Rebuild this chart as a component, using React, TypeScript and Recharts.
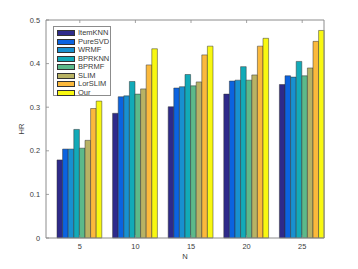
import { BarChart, Bar, XAxis, YAxis } from 'recharts';

const N_VALUES = [5, 10, 15, 20, 25];
const ITEMKNN = [0.179, 0.286, 0.301, 0.330, 0.352];
const PURESVD = [0.204, 0.324, 0.344, 0.360, 0.372];
const WRMF = [0.204, 0.326, 0.347, 0.362, 0.369];
const BPRKNN = [0.249, 0.359, 0.375, 0.393, 0.405];
const BPRMF = [0.206, 0.330, 0.349, 0.362, 0.372];
const SLIM = [0.224, 0.342, 0.358, 0.374, 0.390];
const LORSLIM = [0.297, 0.397, 0.420, 0.440, 0.451];
const OUR = [0.314, 0.434, 0.440, 0.458, 0.476];
const Y_TICKS = [0, 0.05, 0.1, 0.15, 0.2, 0.25, 0.3, 0.35, 0.4, 0.45, 0.5];

const SERIES = [
  { key: 'ItemKNN', values: ITEMKNN, color: '#2e2a8a' },
  { key: 'PureSVD', values: PURESVD, color: '#0b63e0' },
  { key: 'WRMF', values: WRMF, color: '#1890d0' },
  { key: 'BPRKNN', values: BPRKNN, color: '#12aab8' },
  { key: 'BPRMF', values: BPRMF, color: '#5cb98a' },
  { key: 'SLIM', values: SLIM, color: '#b8b264' },
  { key: 'LorSLIM', values: LORSLIM, color: '#fbb93c' },
  { key: 'Our', values: OUR, color: '#f8f811' },
];

const data = N_VALUES.map((n, i) => {
  const row: Record<string, number | string> = { n: String(n) };
  SERIES.forEach(s => { row[s.key] = s.values[i]; });
  return row;
});

const FONT = '"Liberation Sans", Arial, sans-serif';
const TEXT = '#3a3a3a';
const AXIS = '#8c8c8c';
const TICK_LEN = 3;
// groups are not centred in the box in the original, hence the uneven padding
const X_PAD = { left: 6, right: -6 };

const fmt = (v: number) => String(Number(v.toFixed(2)));

// MATLAB style: labels outside, tick marks pointing in
const LeftTick = (p: any) => (
  <g>
    <text x={p.x} y={p.y} dy={2.6} textAnchor="end" fontSize={7.4} fill={TEXT} fontFamily={FONT}>
      {fmt(p.payload.value)}
    </text>
    <line x1={p.x + 6} x2={p.x + 6 + TICK_LEN} y1={p.y} y2={p.y} stroke={AXIS} strokeWidth={0.8} />
  </g>
);

const BottomTick = (p: any) => (
  <g>
    <text x={p.x} y={p.y} dy={7} textAnchor="middle" fontSize={7.4} fill={TEXT} fontFamily={FONT}>
      {p.payload.value}
    </text>
    <line x1={p.x} x2={p.x} y1={p.y - 4} y2={p.y - 4 - TICK_LEN} stroke={AXIS} strokeWidth={0.8} />
  </g>
);

const TopTick = (p: any) => (
  <line x1={p.x} x2={p.x} y1={p.y} y2={p.y + TICK_LEN} stroke={AXIS} strokeWidth={0.8} />
);

const RightTick = (p: any) => (
  <line x1={p.x} x2={p.x - TICK_LEN} y1={p.y} y2={p.y} stroke={AXIS} strokeWidth={0.8} />
);

function LegendBox() {
  return (
    <div
      style={{
        position: 'absolute',
        left: 53,
        top: 26,
        width: 58,
        height: 70,
        border: `1px solid ${AXIS}`,
        background: '#fff',
        boxSizing: 'border-box',
        fontFamily: FONT,
        fontSize: 7.5,
        color: TEXT,
        paddingTop: 2,
      }}
    >
      {SERIES.map(s => (
        <div key={s.key} style={{ display: 'flex', alignItems: 'center', height: 8.47 }}>
          <div
            style={{
              width: 18,
              height: 6,
              marginLeft: 3,
              marginRight: 3,
              background: s.color,
              border: '0.5px solid #333',
              boxSizing: 'border-box',
            }}
          />
          <span style={{ lineHeight: '8px' }}>{s.key}</span>
        </div>
      ))}
    </div>
  );
}

export default function App() {
  return (
    <div style={{ position: 'absolute', left: 0, top: 0, width: 358, height: 269, background: '#fff' }}>
      <BarChart
        width={358}
        height={269}
        data={data}
        margin={{ top: 19, right: 33, bottom: 0, left: 0 }}
        barGap={0}
        barSize={5.6}
      >
        <XAxis
          dataKey="n"
          padding={X_PAD}
          height={31}
          tickSize={0}
          tickMargin={4}
          tickLine={false}
          axisLine={{ stroke: AXIS }}
          tick={BottomTick}
          label={{ value: 'N', position: 'insideBottom', offset: 10, fontSize: 7.6, fill: TEXT, fontFamily: FONT }}
        />
        <XAxis
          xAxisId="top"
          dataKey="n"
          orientation="top"
          padding={X_PAD}
          height={1}
          tickSize={0}
          tickMargin={0}
          tickLine={false}
          axisLine={{ stroke: AXIS }}
          tick={TopTick}
        />
        <YAxis
          domain={[0, 0.5]}
          ticks={Y_TICKS}
          width={46}
          tickSize={0}
          tickMargin={6}
          tickLine={false}
          axisLine={{ stroke: AXIS }}
          tick={LeftTick}
          label={{
            value: 'HR',
            angle: -90,
            position: 'insideLeft',
            offset: 21,
            textAnchor: 'middle',
            fontSize: 7.6,
            fill: TEXT,
            fontFamily: FONT,
          }}
        />
        <YAxis
          yAxisId="r"
          orientation="right"
          domain={[0, 0.5]}
          ticks={Y_TICKS}
          width={1}
          tickSize={0}
          tickMargin={0}
          tickLine={false}
          axisLine={{ stroke: AXIS }}
          tick={RightTick}
        />
        {SERIES.map(s => (
          <Bar
            key={s.key}
            dataKey={s.key}
            fill={s.color}
            stroke="#333"
            strokeWidth={0.5}
            isAnimationActive={false}
          />
        ))}
      </BarChart>
      <LegendBox />
    </div>
  );
}
